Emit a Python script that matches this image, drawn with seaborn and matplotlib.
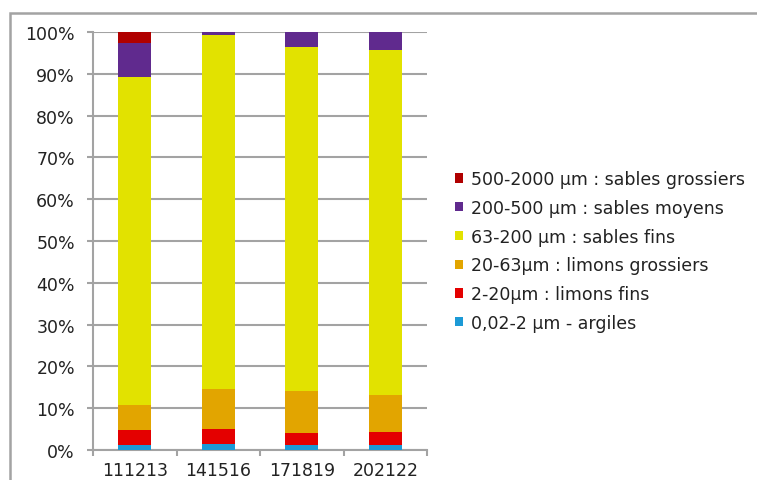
import numpy as np
import pandas as pd
import matplotlib
matplotlib.use("Agg")
import matplotlib.pyplot as plt
from matplotlib.patches import Patch, Rectangle
import seaborn as sns

# Samples (x axis)
samples = ["111213", "141516", "171819", "202122"]

# Size fractions, bottom of stack first (percent of each sample)
fractions = [
    "0,02-2 µm - argiles",
    "2-20µm : limons fins",
    "20-63µm : limons grossiers",
    "63-200 µm : sables fins",
    "200-500 µm : sables moyens",
    "500-2000 µm : sables grossiers",
]
argiles = [1.2, 1.4, 1.3, 1.3]
limons_fins = [3.5, 3.6, 2.8, 3.1]
limons_grossiers = [6.1, 9.5, 10.1, 8.8]
sables_fins = [78.5, 84.8, 82.3, 82.6]
sables_moyens = [8.0, 0.7, 3.5, 4.2]
sables_grossiers = [2.7, 0.0, 0.0, 0.0]

colors = ["#1c9ad6", "#e40000", "#e2a500", "#e2e200", "#602a8e", "#b00000"]

series = [argiles, limons_fins, limons_grossiers, sables_fins,
          sables_moyens, sables_grossiers]

# Long table with the running total of each layer
rows = []
for i, (name, vals) in enumerate(zip(fractions, series)):
    cum = np.sum(series[: i + 1], axis=0)
    for s, v, c in zip(samples, vals, cum):
        rows.append({"sample": s, "fraction": name, "value": v, "top": c})
df = pd.DataFrame(rows)

sns.set_theme(style="white")
plt.rcParams["font.family"] = ["DejaVu Sans"]

fig = plt.figure(figsize=(7.57, 4.81), dpi=100)
ax = fig.add_axes([93 / 757, 1 - 451 / 481, (427 - 93) / 757, (451 - 33) / 481])

grid_col = "#a3a3a3"
text_col = "#222222"

# Stacked bars: draw running totals from the top layer down
for name, col in reversed(list(zip(fractions, colors))):
    sub = df[df["fraction"] == name]
    sns.barplot(data=sub, x="sample", y="top", order=samples, color=col,
                width=0.4, saturation=1, errorbar=None, ax=ax,
                linewidth=0, zorder=3)

ax.set_xlim(-0.5, 3.5)
ax.set_ylim(0, 100)
ax.set_yticks(np.arange(0, 101, 10))
ax.set_yticklabels([f"{v}%" for v in range(0, 101, 10)])
ax.set_xlabel("")
ax.set_ylabel("")

ax.yaxis.grid(True, color=grid_col, linewidth=1.5, zorder=0)
ax.set_axisbelow(True)
for side in ["top", "right"]:
    ax.spines[side].set_visible(False)
for side in ["left", "bottom"]:
    ax.spines[side].set_color(grid_col)
    ax.spines[side].set_linewidth(1.5)

ax.tick_params(axis="y", length=4, width=1.5, color=grid_col, pad=9,
               labelsize=12.5, labelcolor=text_col, left=True)
ax.set_xticks(np.arange(-0.5, 4.0, 1.0), minor=True)
ax.tick_params(axis="x", which="minor", length=4, width=1.5, color=grid_col,
               bottom=True)
ax.tick_params(axis="x", which="major", length=0, pad=8, labelsize=12.5,
               labelcolor=text_col)

# Legend, top layer first
handles = [Patch(facecolor=c, edgecolor="none") for c in reversed(colors)]
labels = list(reversed(fractions))
fig.legend(handles, labels, loc="center left",
           bbox_to_anchor=(455 / 757, 1 - 252 / 481),
           bbox_transform=fig.transFigure, frameon=False, fontsize=12.5,
           handlelength=0.45, handleheight=0.45, handletextpad=0.45,
           labelspacing=0.62, borderpad=0, borderaxespad=0,
           labelcolor=text_col)

# Chart area frame
fig.patches.append(Rectangle((10 / 757, -0.2), 1.2, 1.2 - 14 / 481 + 0.0,
                             transform=fig.transFigure, fill=False,
                             edgecolor="#a3a3a3", linewidth=1.8))

fig.savefig("out.png", dpi=100)
